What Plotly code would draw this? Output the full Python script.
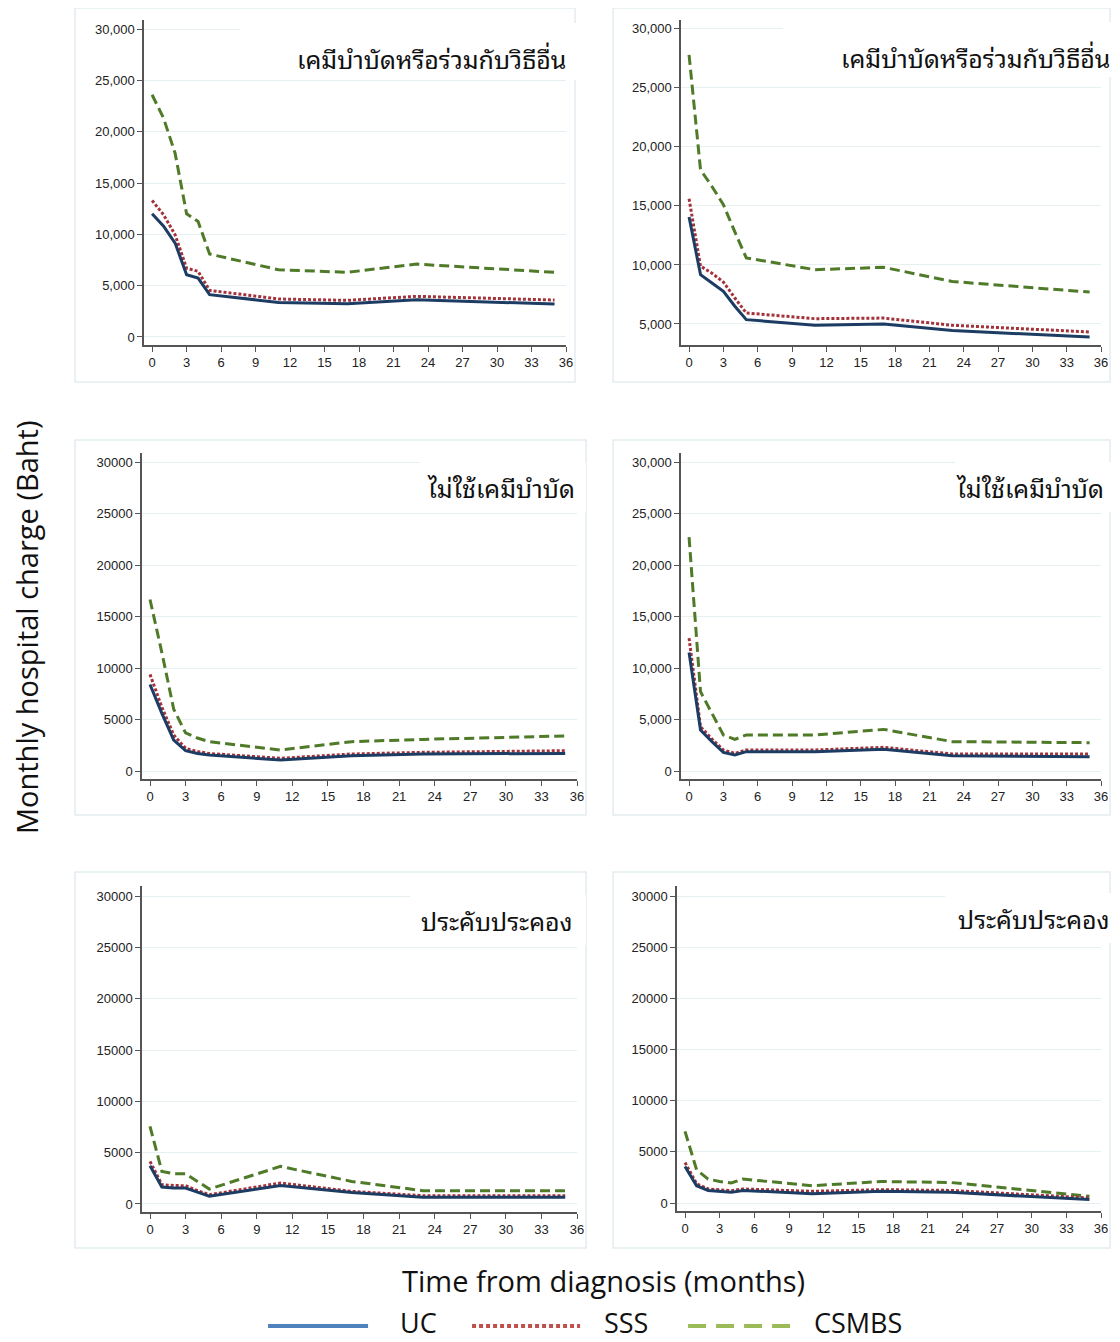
import plotly.graph_objects as go

W, H = 1120, 1342
OFF = 8          # default page margin of the html body
XS = 0.9937      # observed horizontal scale of the captured page
FW, FH = W - OFF, H - OFF

# ---------------- data ----------------
months = [0, 1, 2, 3, 4, 5, 11, 17, 23, 35]

titles = ["เคมีบำบัดหรือร่วมกับวิธีอื่น", "เคมีบำบัดหรือร่วมกับวิธีอื่น",
          "ไม่ใช้เคมีบำบัด", "ไม่ใช้เคมีบำบัด",
          "ประคับประคอง", "ประคับประคอง"]

uc_p1 = [12000, 10800, 9150, 6070, 5740, 4120, 3370, 3240, 3630, 3210]
sss_p1 = [13300, 11900, 9960, 6700, 6400, 4540, 3700, 3570, 3960, 3600]
csmbs_p1 = [23600, 21300, 17900, 12000, 11250, 8080, 6550, 6300, 7100, 6300]

uc_p2 = [14060, 9180, 8470, 7770, 6500, 5370, 4890, 5000, 4440, 3900]
sss_p2 = [15600, 9900, 9300, 8550, 7200, 5930, 5450, 5500, 4890, 4320]
csmbs_p2 = [27800, 18060, 16650, 15100, 12800, 10600, 9600, 9800, 8600, 7700]

uc_p3 = [8400, 5600, 3000, 1970, 1700, 1550, 1070, 1490, 1650, 1710]
sss_p3 = [9380, 6200, 3500, 2200, 1900, 1700, 1230, 1650, 1810, 1970]
csmbs_p3 = [16650, 11500, 6000, 3700, 3200, 2850, 2040, 2850, 3070, 3400]

uc_p4 = [11500, 3980, 2850, 1810, 1550, 1880, 1880, 2100, 1490, 1390]
sss_p4 = [12900, 4300, 3100, 2040, 1710, 2040, 2040, 2300, 1650, 1650]
csmbs_p4 = [22700, 7700, 5600, 3500, 3070, 3500, 3500, 4040, 2850, 2750]

uc_p5 = [3730, 1650, 1550, 1550, 1150, 750, 1810, 1130, 650, 650]
sss_p5 = [4150, 1880, 1800, 1780, 1300, 900, 2040, 1230, 810, 810]
csmbs_p5 = [7550, 3170, 2950, 2950, 2200, 1460, 3660, 2200, 1300, 1300]

uc_p6 = [3570, 1690, 1230, 1140, 1040, 1230, 910, 1140, 1040, 330]
sss_p6 = [3960, 1880, 1370, 1300, 1200, 1370, 1140, 1300, 1230, 490]
csmbs_p6 = [7000, 3250, 2340, 2100, 1950, 2340, 1690, 2100, 2000, 650]

uc = [uc_p1, uc_p2, uc_p3, uc_p4, uc_p5, uc_p6]
sss = [sss_p1, sss_p2, sss_p3, sss_p4, sss_p5, sss_p6]
csmbs = [csmbs_p1, csmbs_p2, csmbs_p3, csmbs_p4, csmbs_p5, csmbs_p6]

x_ticks = list(range(0, 37, 3))
y_ticks = [0, 5000, 10000, 15000, 20000, 25000, 30000]
y_ticks_p2 = [5000, 10000, 15000, 20000, 25000, 30000]
comma_fmt = [True, True, False, True, False, False]

# ---------------- layout geometry (target picture pixels) ----------------
# (x0, x1, y_top, y_bottom, xrange, yrange)
panels = [
    (144, 566, 20, 345, [-0.7, 36], [-780, 30880]),
    (681, 1101, 20, 345, [-0.7, 36], [3220, 30750]),
    (142, 577, 453, 779, [-0.67, 36], [-777, 30874]),
    (681, 1101, 453, 779, [-0.7, 36], [-777, 30874]),
    (142, 577, 886, 1212, [-0.67, 36], [-780, 30974]),
    (677, 1101, 886, 1211, [-0.69, 36], [-782, 30978]),
]
boxes = [
    (75, 575, 8, 382), (613, 1110, 8, 382),
    (75, 586, 440, 815), (613, 1110, 440, 815),
    (75, 586, 872, 1248), (613, 1110, 872, 1248),
]
title_pos = [(568, 58), (1112, 57), (577, 487), (1106, 487), (575, 920), (1112, 918)]
title_box = [(240, 580, 23, 80), (783, 1120, 22, 77), (420, 586, 462, 512),
             (955, 1120, 462, 512), (410, 586, 895, 945), (945, 1120, 893, 943)]


def px(x):
    return (x / XS - OFF) / FW


def py(y):
    return 1 - (y - OFF) / FH


line_styles = {
    "UC": dict(color="#1c3c63", width=3, dash="solid"),
    "SSS": dict(color="#a3323a", width=3, dash="3px,2px"),
    "CSMBS": dict(color="#4f7a28", width=3, dash="10px,5px"),
}

fig = go.Figure()
shapes = []
annotations = []

axis_font = dict(family="Liberation Sans, Arial, sans-serif", size=13, color="#222222")
thai_font = "Noto Sans Thai Looped, Loma, Garuda, Kinnari, Norasi, Noto Serif Thai, Noto Sans Thai, sans-serif"

for i, (x0, x1, yt, yb, xr, yr) in enumerate(panels):
    n = "" if i == 0 else str(i + 1)
    for name, data in zip(["CSMBS", "SSS", "UC"], [csmbs, sss, uc]):
        fig.add_trace(go.Scatter(
            x=months, y=data[i], mode="lines", line=line_styles[name],
            showlegend=False, xaxis="x" + n, yaxis="y" + n, name=name,
        ))
    yt_vals = y_ticks_p2 if i == 1 else y_ticks
    ytext = [f"{v:,}" if comma_fmt[i] else str(v) for v in yt_vals]
    fig.layout["xaxis" + n] = dict(
        domain=[px(x0), px(x1)], range=xr, anchor="y" + n,
        tickvals=x_ticks, ticks="outside", ticklen=5, tickcolor="#555555",
        showline=True, linecolor="#555555", linewidth=1.5, showgrid=False,
        zeroline=False, tickfont=axis_font, fixedrange=True,
    )
    fig.layout["yaxis" + n] = dict(
        domain=[py(yb), py(yt)], range=yr, anchor="x" + n,
        tickvals=yt_vals, ticktext=ytext, ticks="outside", ticklen=5,
        tickcolor="#555555", showline=True, linecolor="#555555", linewidth=1.5,
        showgrid=True, gridcolor="#e6eff1", gridwidth=1, zeroline=False,
        tickfont=axis_font, fixedrange=True,
    )
    bx0, bx1, by0, by1 = boxes[i]
    shapes.append(dict(type="rect", xref="paper", yref="paper",
                       x0=px(bx0), x1=px(bx1), y0=py(by1), y1=py(by0),
                       line=dict(color="#e4edf0", width=1.5), fillcolor="rgba(0,0,0,0)",
                       layer="below"))
    tx0, tx1, ty0, ty1 = title_box[i]
    shapes.append(dict(type="rect", xref="paper", yref="paper",
                       x0=px(tx0), x1=px(tx1), y0=py(ty1), y1=py(ty0),
                       line=dict(width=0), fillcolor="white", layer="above"))
    tx, ty = title_pos[i]
    annotations.append(dict(
        text=titles[i], xref="paper", yref="paper", x=px(tx), y=py(ty),
        xanchor="right", yanchor="middle", showarrow=False,
        font=dict(family=thai_font, size=25, color="#111111"),
    ))

# axis titles
annotations.append(dict(
    text="Monthly hospital charge (Baht)", xref="paper", yref="paper",
    x=px(27), y=py(627), xanchor="center", yanchor="middle", textangle=-90,
    showarrow=False, font=dict(family="Open Sans, sans-serif", size=29, color="#111111"),
))
annotations.append(dict(
    text="Time from diagnosis (months)", xref="paper", yref="paper",
    x=px(603), y=py(1280), xanchor="center", yanchor="middle",
    showarrow=False, font=dict(family="Open Sans, sans-serif", size=29, color="#111111"),
))

# legend (drawn manually to reproduce long key samples)
legend_items = [
    ("UC", 268, 368, 398, dict(color="#4f81bd", width=4, dash="solid")),
    ("SSS", 472, 580, 602, dict(color="#c0504d", width=4, dash="4px,3px")),
    ("CSMBS", 688, 790, 812, dict(color="#9bbb59", width=4, dash="18px,10px")),
]
for label, lx0, lx1, tx, lstyle in legend_items:
    shapes.append(dict(type="line", xref="paper", yref="paper",
                       x0=px(lx0), x1=px(lx1), y0=py(1326), y1=py(1326), line=lstyle))
    annotations.append(dict(
        text=label, xref="paper", yref="paper", x=px(tx), y=py(1322),
        xanchor="left", yanchor="middle", showarrow=False,
        font=dict(family="Open Sans, sans-serif", size=27, color="#111111"),
    ))

fig.update_layout(
    width=FW, height=FH, margin=dict(l=0, r=0, t=0, b=0),
    paper_bgcolor="white", plot_bgcolor="white",
    shapes=shapes, annotations=annotations, showlegend=False,
)

fig.write_html("out.html")
